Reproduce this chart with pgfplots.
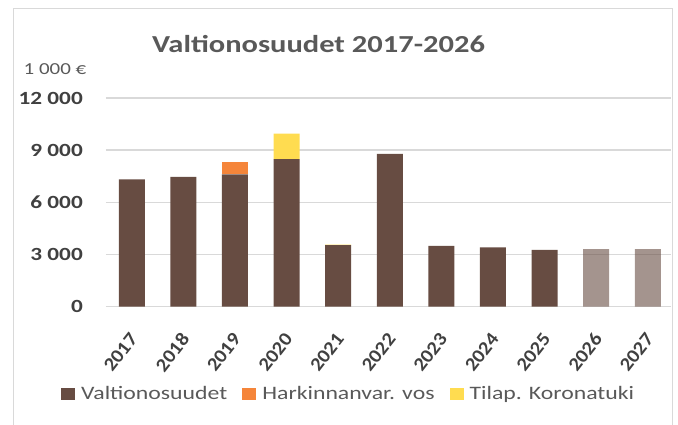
\documentclass[border=0pt]{standalone}
\usepackage{fontspec}
\setmainfont{Carlito}[FakeStretch=1.25]
\newfontfamily\plainfont{Carlito}[FakeStretch=1.1]
\usepackage{pgfplots}
\pgfplotsset{compat=1.18}
\definecolor{vos}{HTML}{674C42}
\definecolor{harki}{HTML}{F5853A}
\definecolor{koro}{HTML}{FFDC50}
\definecolor{gridc}{HTML}{D9D9D9}
\definecolor{txt}{HTML}{595959}
\definecolor{txtd}{HTML}{404040}
\begin{document}
\begin{tikzpicture}[x=1pt,y=1pt]
\useasboundingbox (0,0) rectangle (678,-425);
\draw[gridc, line width=1.5pt] (13.5,-8.5) rectangle (672.5,-440);
\node[anchor=base, text=txt, font=\fontsize{24.4}{28}\selectfont\bfseries] at (318.5,-52.3) {Valtionosuudet 2017-2026};
\node[anchor=base, text=txt, font=\fontsize{16.8}{18}\selectfont] at (55,-74.3) {1 000 €};
\begin{axis}[
  at={(106pt,-306.5pt)}, anchor=south west,
  scale only axis, width=565pt, height=208.5pt,
  ymin=0, ymax=12000, xmin=-0.5, xmax=10.45,
  ybar stacked, bar width=26pt,
  scaled y ticks=false,
  ytick={0,3000,6000,9000,12000},
  yticklabels={0,3 000,6 000,9 000,12 000},
  xtick={0,1,2,3,4,5,6,7,8,9,10},
  xticklabels={2017,2018,2019,2020,2021,2022,2023,2024,2025,2026,2027},
  ymajorgrids, grid style={gridc, line width=1.5pt},
  axis line style={draw=none},
  major tick length=0pt,
  yticklabel style={font=\fontsize{18.6}{20}\selectfont\bfseries, text=txtd, inner sep=0pt, xshift=-23pt},
  xticklabel style={font=\plainfont\fontsize{19}{20}\selectfont\bfseries, text=txtd, inner sep=0pt, yshift=-29pt, xshift=2pt, rotate=52, anchor=east},
  legend columns=3,
  legend style={at={(-0.0796,-0.4197)}, anchor=west, draw=none, fill=none,
    font=\fontsize{19}{22}\selectfont, text=txt, inner sep=0pt,
    nodes={inner sep=0pt}, column sep=6pt,
    /tikz/every even column/.append style={column sep=15pt}},
  legend image code/.code={\fill[#1] (0pt,-6pt) rectangle (14pt,6pt);},
]
\addplot[fill=vos, draw=none] coordinates {(0,7310) (1,7460) (2,7600) (3,8480) (4,3530) (5,8780) (6,3490) (7,3400) (8,3265) (9,0) (10,0)};
\addlegendentry{Valtionosuudet}
\addplot[fill=harki, draw=none] coordinates {(0,0) (1,0) (2,700) (3,0) (4,0) (5,0) (6,0) (7,0) (8,0) (9,0) (10,0)};
\addlegendentry{Harkinnanvar. vos}
\addplot[fill=koro, draw=none] coordinates {(0,0) (1,0) (2,0) (3,1470) (4,30) (5,0) (6,0) (7,0) (8,0) (9,0) (10,0)};
\addlegendentry{Tilap. Koronatuki}
\addplot[fill=vos, fill opacity=0.6, draw=none, forget plot] coordinates {(0,0) (1,0) (2,0) (3,0) (4,0) (5,0) (6,0) (7,0) (8,0) (9,3300) (10,3300)};
\end{axis}
\end{tikzpicture}
\end{document}
